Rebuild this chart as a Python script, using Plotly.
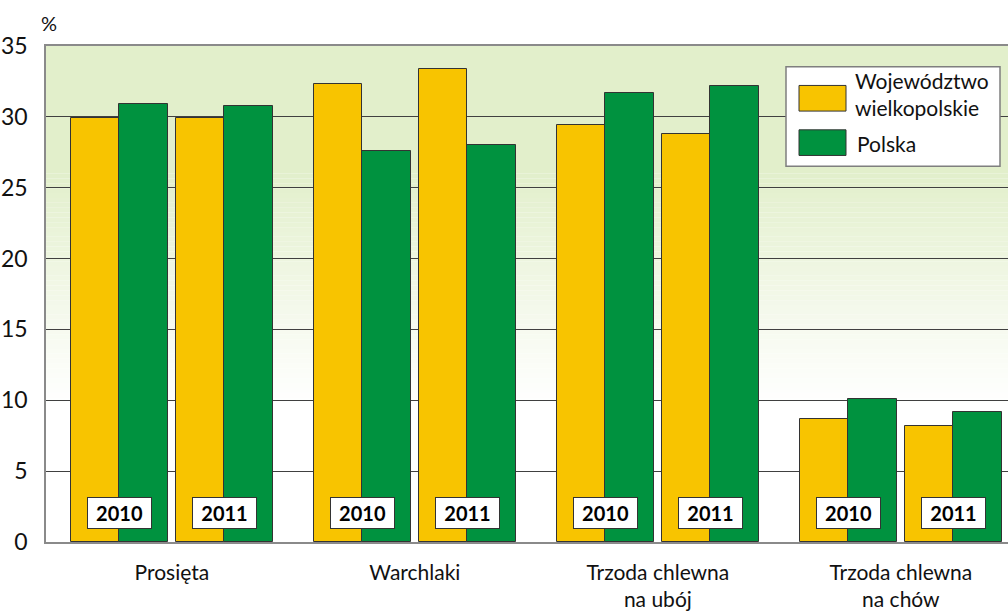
import plotly.graph_objects as go

# ---- data ----
categories = ["Prosięta", "Warchlaki", "Trzoda chlewna<br>na ubój", "Trzoda chlewna<br>na chów"]
years = ["2010", "2011"]
wielkopolskie = [29.9, 29.9, 32.3, 33.4, 29.4, 28.8, 8.7, 8.2]
polska = [30.9, 30.8, 27.6, 28.0, 31.7, 32.2, 10.1, 9.2]
series_names = ["Województwo<br>wielkopolskie", "Polska"]
y_ticks = [0, 5, 10, 15, 20, 25, 30, 35]

# ---- style ----
YELLOW = "#F8C400"
GREEN = "#00923F"
OUTLINE = "#333333"
FONT = "Lato"
W, H = 1008, 611
ML, MR, MT, MB = 46, 0, 46, 62

year_offset = 0.216
bar_w = 0.2

cluster_x = []
for gi in range(len(categories)):
    for yi in range(len(years)):
        cluster_x.append(gi + (-year_offset if yi == 0 else year_offset))

x_y = [c - bar_w / 2 for c in cluster_x]
x_g = [c + bar_w / 2 for c in cluster_x]

fig = go.Figure()
fig.add_trace(go.Bar(x=x_y, y=wielkopolskie, width=bar_w, name="Województwo wielkopolskie",
                     marker=dict(color=YELLOW, line=dict(color=OUTLINE, width=1)),
                     showlegend=False))
fig.add_trace(go.Bar(x=x_g, y=polska, width=bar_w, name="Polska",
                     marker=dict(color=GREEN, line=dict(color=OUTLINE, width=1)),
                     showlegend=False))

# ---- background gradient (light green at top fading to white) ----
shapes = []
top_rgb = (226, 239, 203)
shapes.append(dict(type="rect", xref="paper", yref="y", x0=0, x1=1, y0=26, y1=35,
                   fillcolor="rgb(%d,%d,%d)" % top_rgb, line=dict(width=0), layer="below"))
n = 48
lo, hi = 9.5, 26.0
for i in range(n):
    y0 = lo + (hi - lo) * i / n
    y1 = lo + (hi - lo) * (i + 1) / n
    t = ((i + 0.5) / n) ** 1.1
    c = tuple(int(round(255 + (tc - 255) * t)) for tc in top_rgb)
    shapes.append(dict(type="rect", xref="paper", yref="y", x0=0, x1=1, y0=y0, y1=y1,
                       fillcolor="rgb(%d,%d,%d)" % c, line=dict(width=0), layer="below"))

# ---- custom legend (drawn in pixel positions converted to paper) ----
pw, ph = W - ML - MR, H - MT - MB
def px(xp):
    return (xp - ML) / pw
def py(yp):
    return (H - MB - yp) / ph

shapes.append(dict(type="rect", xref="paper", yref="paper", x0=px(786), x1=px(1000),
                   y0=py(168), y1=py(67), fillcolor="white",
                   line=dict(color="#7f7f7f", width=1.5), layer="above"))
shapes.append(dict(type="rect", xref="paper", yref="paper", x0=px(799), x1=px(846),
                   y0=py(112), y1=py(86), fillcolor=YELLOW,
                   line=dict(color=OUTLINE, width=1), layer="above"))
shapes.append(dict(type="rect", xref="paper", yref="paper", x0=px(799), x1=px(846),
                   y0=py(157), y1=py(131), fillcolor=GREEN,
                   line=dict(color=OUTLINE, width=1), layer="above"))

annotations = []
annotations.append(dict(xref="paper", yref="paper", x=px(853), y=py(95), text=series_names[0],
                        showarrow=False, xanchor="left", yanchor="middle", align="left",
                        font=dict(family=FONT, size=21, color="#111")))
annotations.append(dict(xref="paper", yref="paper", x=px(855), y=py(145), text=series_names[1],
                        showarrow=False, xanchor="left", yanchor="middle", align="left",
                        font=dict(family=FONT, size=21, color="#111")))

# year boxes
for i, cx in enumerate(cluster_x):
    annotations.append(dict(x=cx, y=2.03, xref="x", yref="y", text="<b>%s</b>" % years[i % 2],
                            showarrow=False, bgcolor="white", bordercolor=OUTLINE, borderwidth=1,
                            borderpad=1, width=61, height=28,
                            font=dict(family=FONT, size=20, color="black")))

# % label
annotations.append(dict(xref="paper", yref="paper", x=px(39), y=py(23), text="%",
                        showarrow=False, xanchor="left", yanchor="middle",
                        font=dict(family=FONT, size=20, color="#111")))

fig.update_layout(
    width=W, height=H,
    margin=dict(l=ML, r=MR, t=MT, b=MB),
    paper_bgcolor="white", plot_bgcolor="rgba(0,0,0,0)",
    barmode="overlay", bargap=0,
    shapes=shapes, annotations=annotations,
    showlegend=False,
    font=dict(family=FONT, color="#111"),
)
fig.update_xaxes(range=[-0.518, 3.441], tickvals=list(range(len(categories))),
                 ticktext=categories, showgrid=False, zeroline=False,
                 showline=True, linecolor="#8a8a8a", linewidth=1.5, mirror=True,
                 ticks="", ticklabelstandoff=11,
                 tickfont=dict(family=FONT, size=21, color="#111"))
fig.update_yaxes(range=[0, 35], tickvals=y_ticks, showgrid=True, gridcolor="#404040",
                 gridwidth=1, zeroline=False, showline=True, linecolor="#8a8a8a",
                 linewidth=1.5, ticks="", ticklabelstandoff=12,
                 tickfont=dict(family=FONT, size=23, color="#111"))

fig.write_html("out.html", config={"displayModeBar": False},
               post_script="document.body.style.margin='0';document.body.style.padding='0';"
                           "document.body.style.overflow='hidden';")
